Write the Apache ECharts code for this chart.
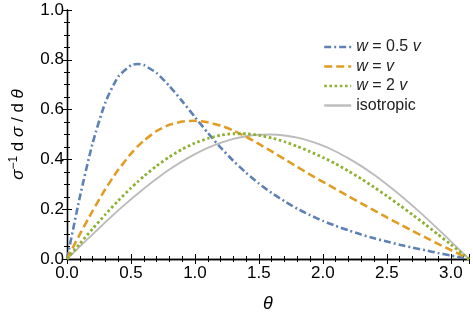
<!DOCTYPE html>
<html><head><meta charset="utf-8">
<script src="https://cdn.jsdelivr.net/npm/echarts@6/dist/echarts.min.js"></script>
<style>html,body{margin:0;padding:0;background:#fff}#c{width:473px;height:318px}</style>
</head><body><div id="c"></div>
<script>
const theta = [0,0.1,0.2,0.3,0.4,0.5,0.55,0.6,0.7,0.8,0.9,1.0,1.1,1.2,1.3,1.4,1.5,1.6,1.7,1.8,1.9,2.0,2.1,2.2,2.3,2.4,2.5,2.6,2.7,2.8,2.9,3.0,3.1,3.1416];
const wHalf = [0,0.248,0.465,0.629,0.732,0.778,0.783,0.779,0.747,0.695,0.634,0.570,0.507,0.448,0.394,0.346,0.303,0.265,0.232,0.202,0.176,0.153,0.133,0.115,0.098,0.083,0.070,0.057,0.046,0.035,0.024,0.014,0.004,0];
const wOne = [0,0.099,0.193,0.281,0.358,0.423,0.451,0.475,0.514,0.539,0.552,0.555,0.549,0.536,0.516,0.491,0.462,0.432,0.401,0.370,0.339,0.310,0.281,0.252,0.223,0.195,0.167,0.140,0.113,0.087,0.061,0.036,0.011,0];
const wTwo = [0,0.061,0.121,0.179,0.234,0.285,0.309,0.332,0.374,0.410,0.441,0.466,0.484,0.497,0.503,0.503,0.497,0.486,0.471,0.452,0.431,0.408,0.382,0.353,0.322,0.288,0.253,0.216,0.178,0.139,0.098,0.058,0.017,0];
const iso = [0,0.050,0.099,0.148,0.195,0.240,0.261,0.282,0.322,0.359,0.392,0.421,0.446,0.466,0.482,0.493,0.499,0.500,0.496,0.487,0.473,0.455,0.432,0.404,0.373,0.338,0.299,0.258,0.214,0.168,0.120,0.071,0.021,0];
const names = ['w = 0.5 v','w = v','w = 2 v','isotropic'];
const legendRich = {'w = 0.5 v':'{it|w} = 0.5 {it|v}','w = v':'{it|w} = {it|v}','w = 2 v':'{it|w} = 2 {it|v}','isotropic':'isotropic'};
const yTicks = ['0.0','0.2','0.4','0.6','0.8','1.0'];
const xTicks = ['0.0','0.5','1.0','1.5','2.0','2.5','3.0'];

const F = 'Liberation Sans, Arial, sans-serif';
const pairs = a => theta.map((t,i)=>[t,a[i]]);
const chart = echarts.init(document.getElementById('c'),null,{renderer:'canvas'});
const axLine = {show:true,lineStyle:{color:'#000',width:1.3}};
const xBase = {type:'value',min:0,max:Math.PI,interval:0.5,axisLine:axLine,
  axisTick:{show:true,inside:true,length:5,lineStyle:{color:'#000',width:1}},
  minorTick:{show:true,splitNumber:5,length:3,lineStyle:{color:'#000',width:1}},
  splitLine:{show:false},minorSplitLine:{show:false}};
const yBase = {type:'value',min:0,max:1,interval:0.2,axisLine:axLine,
  axisTick:{show:true,inside:true,length:5,lineStyle:{color:'#000',width:1}},
  minorTick:{show:true,splitNumber:4,length:3,lineStyle:{color:'#000',width:1}},
  splitLine:{show:false},minorSplitLine:{show:false}};
function mk(name,data,color,type,width){
  return {name,type:'line',data:pairs(data),showSymbol:false,symbol:'none',smooth:0.2,
    lineStyle:{color,width,type,cap:'butt'},itemStyle:{color},z:name==='isotropic'?1:2,animation:false};
}
chart.setOption({
  animation:false,
  backgroundColor:'#fff',
  grid:{left:61,right:4,top:10,bottom:56},
  legend:{orient:'vertical',left:318,top:34,itemWidth:27,itemHeight:14,itemGap:3.5,
    itemStyle:{opacity:0},lineStyle:{width:2.4},
    data:names,formatter:n=>legendRich[n],
    textStyle:{fontFamily:F,fontSize:16,color:'#222',rich:{it:{fontFamily:F,fontSize:16,fontStyle:'italic',color:'#222'}}}},
  xAxis:[Object.assign({},xBase,{position:'bottom',
      axisLabel:{show:true,margin:6,fontFamily:F,fontSize:17,color:'#000',
        formatter:v=>{const i=Math.round(v/0.5);return Math.abs(v-i*0.5)<1e-6&&xTicks[i]!==undefined?xTicks[i]:'';}},
      name:'{it|θ}',nameLocation:'middle',nameGap:36,
      nameTextStyle:{fontFamily:F,fontSize:17,color:'#000',rich:{it:{fontFamily:F,fontSize:18,fontStyle:'italic',color:'#000'}}}}),
    Object.assign({},xBase,{position:'top',axisLabel:{show:false}})],
  yAxis:[Object.assign({},yBase,{position:'left',
      axisLabel:{show:true,margin:3,fontFamily:F,fontSize:17,color:'#000',formatter:v=>yTicks[Math.round(v/0.2)]}},
      {name:'{it|σ}{sup|−1} d {it|σ} / d {it|θ}',nameLocation:'middle',nameGap:38,nameRotate:90,
      nameTextStyle:{fontFamily:F,fontSize:17,color:'#000',rich:{
        it:{fontFamily:F,fontSize:17,fontStyle:'italic',color:'#000'},
        sup:{fontFamily:F,fontSize:12,color:'#000',padding:[0,0,9,0]}}}}),
    Object.assign({},yBase,{position:'right',axisLabel:{show:false}})],
  series:[
    mk(names[0],wHalf,'#5E81B5',[7,3,2,3],2.6),
    mk(names[1],wOne,'#E19C24',[8,4],2.6),
    mk(names[2],wTwo,'#8FB032',[2.6,2.6],2.8),
    mk(names[3],iso,'#BBBBBB','solid',1.8)
  ]
});
</script></body></html>
